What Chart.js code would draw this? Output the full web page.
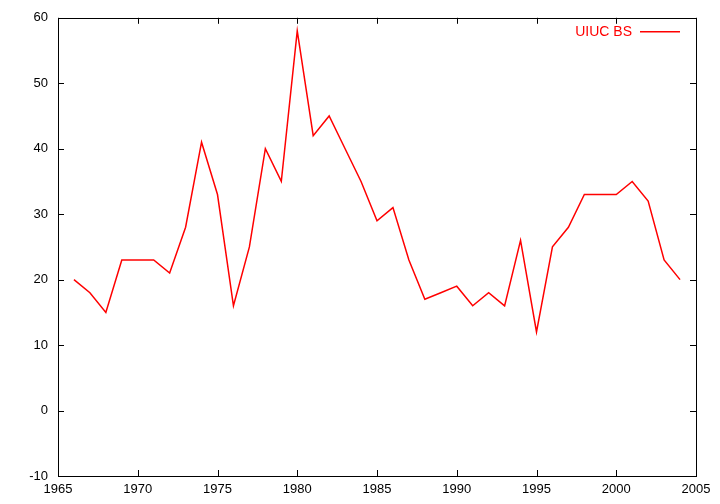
<!DOCTYPE html>
<html>
<head>
<meta charset="utf-8">
<script src="https://cdn.jsdelivr.net/npm/chart.js@4"></script>
<style>
  html, body { margin: 0; padding: 0; background: #fff; }
  #wrap { width: 720px; height: 504px; }
</style>
</head>
<body>
<div id="wrap"><canvas id="myChart"></canvas></div>
<script>
var years = [1966, 1967, 1968, 1969, 1970, 1971, 1972, 1973, 1974, 1975, 1976, 1977, 1978, 1979,
             1980, 1981, 1982, 1983, 1984, 1985, 1986, 1987, 1988, 1989, 1990, 1991, 1992, 1993,
             1994, 1995, 1996, 1997, 1998, 1999, 2000, 2001, 2002, 2003, 2004];
var uiucBS = [20, 18, 15, 23, 23, 23, 21, 28, 41, 33, 16, 25, 40, 35,
              58, 42, 45, 40, 35, 29, 31, 23, 17, 18, 19, 16, 18, 16,
              26, 12, 25, 28, 33, 33, 33, 35, 32, 23, 20];
var xTicks = [1965, 1970, 1975, 1980, 1985, 1990, 1995, 2000, 2005];
var yTicks = [-10, 0, 10, 20, 30, 40, 50, 60];
var seriesName = 'UIUC BS';

var fontFamily = '"Liberation Sans", Arial, sans-serif';

// gnuplot style frame: border plus inward ticks on all four sides
var frame = {
    id: 'frame',
    afterDraw: function (chart) {
        var c = chart.ctx, a = chart.chartArea;
        var xs = chart.scales.x, ys = chart.scales.y;
        c.save();
        c.strokeStyle = '#000';
        c.lineWidth = 1;
        c.strokeRect(Math.round(a.left) + 0.5, Math.round(a.top) + 0.5,
                     Math.round(a.right - a.left), Math.round(a.bottom - a.top));
        c.beginPath();
        xTicks.forEach(function (v) {
            var px = Math.round(xs.getPixelForValue(v)) + 0.5;
            c.moveTo(px, a.bottom); c.lineTo(px, a.bottom - 6);
            c.moveTo(px, a.top); c.lineTo(px, a.top + 6);
        });
        yTicks.forEach(function (v) {
            var py = Math.round(ys.getPixelForValue(v)) + 0.5;
            c.moveTo(a.left, py); c.lineTo(a.left + 6, py);
            c.moveTo(a.right, py); c.lineTo(a.right - 6, py);
        });
        c.stroke();

        // key, top right
        var ky = a.top + 14;
        c.strokeStyle = '#ff0000';
        c.lineWidth = 1.5;
        c.beginPath();
        c.moveTo(a.right - 56, ky); c.lineTo(a.right - 16, ky);
        c.stroke();
        c.fillStyle = '#ff0000';
        c.font = '14px ' + fontFamily;
        c.textAlign = 'right';
        c.textBaseline = 'middle';
        c.fillText(seriesName, a.right - 64, ky);
        c.restore();
    }
};

var ctx = document.getElementById('myChart');

var myChart = new Chart(ctx, {
    type: 'line',
    data: {
        labels: years,
        datasets: [{
            label: seriesName,
            data: uiucBS,
            borderColor: '#ff0000',
            borderWidth: 1.5,
            pointRadius: 0,
            tension: 0,
            fill: false
        }]
    },
    options: {
        responsive: true,
        maintainAspectRatio: false,
        animation: false,
        layout: { padding: { left: 0, right: 24, top: 17, bottom: 0 } },
        plugins: {
            legend: { display: false },
            tooltip: { enabled: false }
        },
        scales: {
            x: {
                type: 'linear',
                min: 1965,
                max: 2005,
                afterBuildTicks: function (s) { s.ticks = xTicks.map(function (v) { return { value: v }; }); },
                afterFit: function (s) { s.height = 28; },
                grid: { display: false, drawTicks: false },
                border: { display: false },
                ticks: {
                    padding: 6,
                    color: '#000',
                    maxRotation: 0,
                    font: { family: fontFamily, size: 13 },
                    callback: function (v) { return String(v); }
                }
            },
            y: {
                min: -10,
                max: 60,
                afterBuildTicks: function (s) { s.ticks = yTicks.map(function (v) { return { value: v }; }); },
                afterFit: function (s) { s.width = 58; },
                grid: { display: false, drawTicks: false },
                border: { display: false },
                ticks: {
                    padding: 10,
                    color: '#000',
                    font: { family: fontFamily, size: 13 }
                }
            }
        }
    },
    plugins: [frame]
});
</script>
</body>
</html>
